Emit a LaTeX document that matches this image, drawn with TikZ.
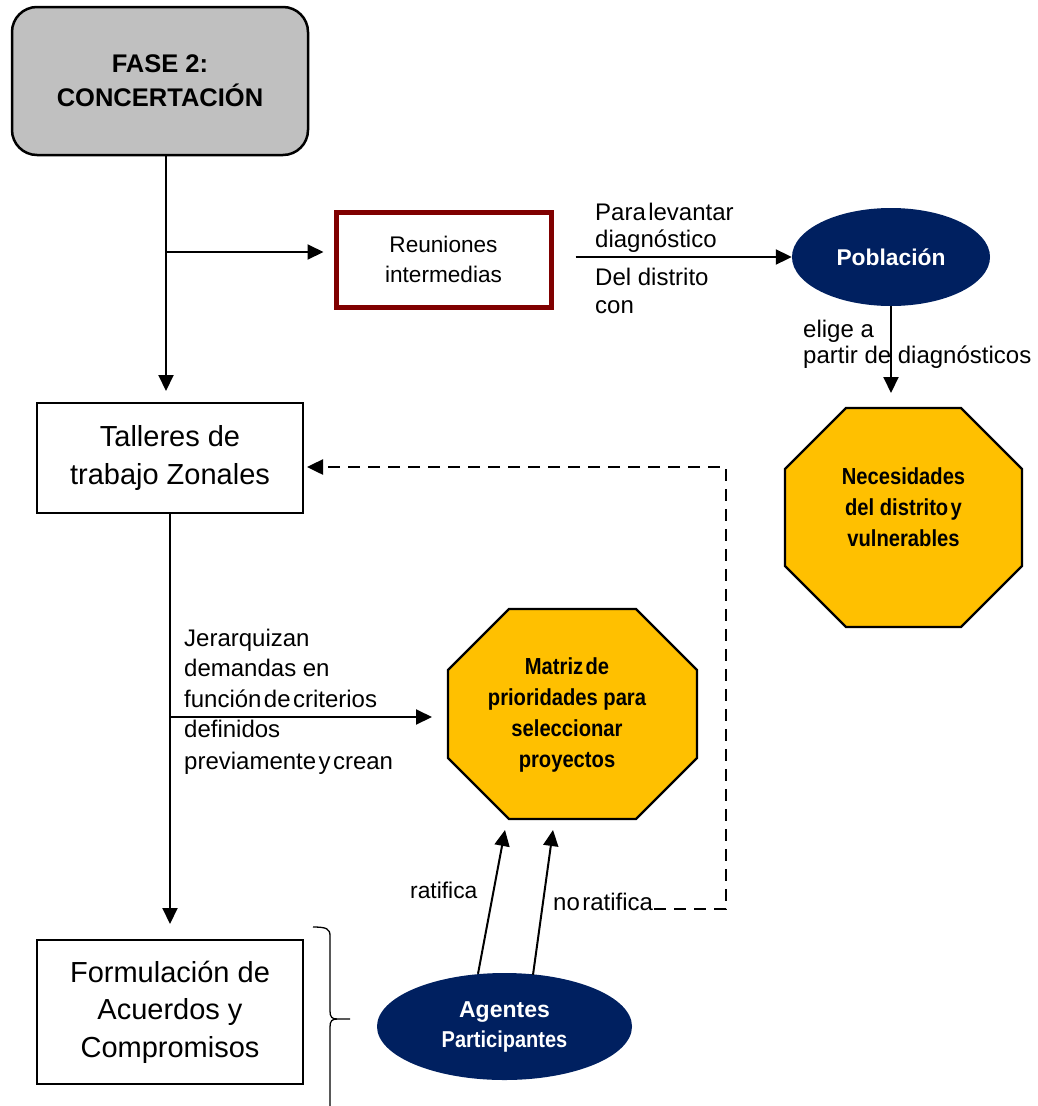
\documentclass[tikz,border=0pt]{standalone}
\usepackage{fontspec}
\setmainfont{Liberation Sans}
\newfontfamily\narrowsans[FakeStretch=0.87]{Liberation Sans}
\usetikzlibrary{arrows.meta,shapes.geometric,calc}

\definecolor{navy}{HTML}{002060}
\definecolor{amber}{HTML}{FFC000}
\definecolor{wine}{HTML}{800000}
\definecolor{phasegray}{HTML}{C0C0C0}

% narrow word gap used in some of the labels
\newcommand\tsp{\hspace{0.1em}}

% filled octagon inside the bounding box of node #1, corners cut by #2
\newcommand\octagonfill[2]{%
  \filldraw[line width=2.2pt, fill=amber, line join=miter]
    ($(#1.north west)+(#2,0)$) -- ($(#1.north east)+(-#2,0)$) --
    ($(#1.north east)+(0,#2)$) -- ($(#1.south east)+(0,-#2)$) --
    ($(#1.south east)+(-#2,0)$) -- ($(#1.south west)+(#2,0)$) --
    ($(#1.south west)+(0,-#2)$) -- ($(#1.north west)+(0,#2)$) -- cycle;}

\begin{document}
\begin{tikzpicture}[x=1pt, y=-1pt,
  conn/.style={line width=2pt, -{Triangle[length=16pt,width=15pt]}},
  dashconn/.style={line width=2.5pt, dash pattern=on 12pt off 8pt,
    -{Triangle[length=16pt,width=15pt]}},
  plainbox/.style={draw, line width=2pt, inner sep=0pt, align=center,
    font=\fontsize{29}{37.5}\selectfont},
  octbox/.style={inner sep=0pt, outer sep=0pt},
  octtext/.style={align=center, inner sep=0pt,
    font=\narrowsans\bfseries\fontsize{23.2}{31}\selectfont},
  oval/.style={ellipse, fill=navy, text=white, inner sep=0pt, align=center},
  lbl/.style={anchor=west, inner sep=0pt, align=left,
    font=\fontsize{24}{26}\selectfont}]

\useasboundingbox (0,0) rectangle (1037,1106);

% phase heading
\node[draw, line width=2.5pt, fill=phasegray, rounded corners=25pt,
      minimum width=296pt, minimum height=148pt, inner sep=0pt, align=center,
      font=\bfseries\fontsize{25.5}{34}\selectfont]
  (fase) at (160,81) {FASE 2:\\CONCERTACIÓN};

% boxes
\node[draw=wine, line width=5pt, minimum width=215pt, minimum height=95pt,
      inner sep=0pt, align=center, font=\fontsize{22.6}{30}\selectfont]
  (reun) at (443.5,259.5) {Reuniones\\intermedias};
\node[plainbox, minimum width=266pt, minimum height=110pt]
  (talleres) at (170,458) {Talleres de\\trabajo Zonales};
\node[plainbox, minimum width=266pt, minimum height=144pt]
  (form) at (170,1012) {Formulación de\\Acuerdos y\\Compromisos};

% ellipses
\node[oval, minimum width=198pt, minimum height=98pt,
      font=\bfseries\fontsize{22.8}{26}\selectfont]
  (pob) at (891,257) {Población};
\node[oval, minimum width=255pt, minimum height=107pt,
      font=\bfseries\fontsize{23}{30}\selectfont]
  (agentes) at (504.5,1026.5) {Agentes\\{\narrowsans Participantes}};

% octagons
\node[octbox, minimum width=237pt, minimum height=219pt] (necbox) at (903.5,517.5) {};
\octagonfill{necbox}{61}
\node[octtext] (nec) at (903.5,507) {Necesidades\\del distrito\tsp y\\vulnerables};

\node[octbox, minimum width=249pt, minimum height=210pt] (matbox) at (572.5,714) {};
\octagonfill{matbox}{61}
\node[octtext] (mat) at (567,714.5) {Matriz\tsp de\\prioridades para\\seleccionar\\proyectos};

% main trunk from the phase heading
\coordinate (trunk) at (166,0);
\coordinate (branch) at (166,252);
\draw[conn] (fase.south -| trunk) -- ($(talleres.north -| trunk)+(0,-11)$);
\draw[conn, shorten >=10pt] (branch) -- (branch -| reun.west);

% meetings to population
\draw[conn, shorten <=22pt] (reun.east |- pob.west) -- (pob.west);
\node[lbl, font=\fontsize{24}{27}\selectfont] (lbl1) at (595,227.5) {Para\tsp levantar\\diagnóstico};
\node[lbl, font=\fontsize{24}{28}\selectfont] (lbl2) at (595,291) {Del distrito\\con};

% population to needs
\draw[conn, shorten >=15pt] (pob.south) -- (pob.south |- necbox.north);
\node[lbl] (lbl3) at (803,344.5) {elige a\\partir de diagnósticos};

% workshops to agreements and to the matrix
\draw[conn, shorten >=15pt] (talleres.south) -- (form.north);
\coordinate (jbranch) at (170,717);
\draw[conn, shorten >=16pt] (jbranch) -- (jbranch -| matbox.west);
\node[lbl, font=\fontsize{24}{30.5}\selectfont] (lbl4) at (184,668)
  {Jerarquizan\\demandas en\\función\tsp de\tsp criterios};
\node[lbl, font=\fontsize{24}{31.5}\selectfont] (lbl5) at (184,747.5)
  {definidos\\previamente\tsp y\tsp crean};

% participants ratify or not
\coordinate (rat) at ($(matbox.south)+(-67.5,11)$);
\coordinate (norat) at ($(matbox.south)+(-19.5,11)$);
\draw[conn] ($(agentes.north)+(-26.5,1)$) -- (rat);
\draw[conn] ($(agentes.north)+(28.5,2)$) -- (norat);
\node[lbl, font=\fontsize{22.8}{26}\selectfont] (lbl6) at (410,890) {ratifica};
\node[lbl] (lbl7) at (553,902) {no\tsp ratifica};

% feedback when not ratified
\coordinate (dturn) at (726,467);
\draw[dashconn, shorten >=3pt] ($(lbl7.east)+(1,7)$) -| (dturn) -- (dturn -| talleres.east);

% brace grouping the agreements
\draw[line width=1.3pt]
  (313,927) .. controls (327,927) and (330,929) .. (330,936) -- (330,1011)
  .. controls (330,1017) and (332,1019) .. (337,1019) -- (350,1019);
\draw[line width=1.3pt]
  (337,1019) .. controls (332,1019) and (330,1021) .. (330,1027) -- (330,1106);

\end{tikzpicture}
\end{document}
